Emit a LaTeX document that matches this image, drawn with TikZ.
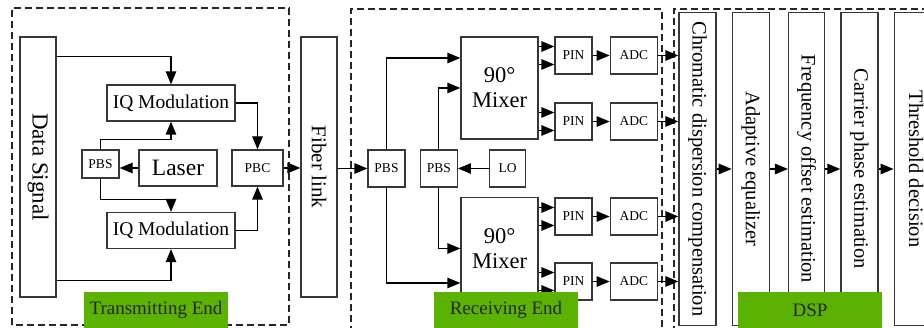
\documentclass[tikz,border=0pt]{standalone}
\usepackage{fontspec}
\setmainfont{Liberation Serif}
\usetikzlibrary{arrows.meta,positioning}
\definecolor{taggreen}{RGB}{92,178,0}
\definecolor{boxgray}{RGB}{55,55,55}

\begin{document}
\begin{tikzpicture}[
  x=1pt, y=1pt,
  font=\fontsize{13.5}{15}\selectfont,
  node distance=17pt,
  box/.style={draw=boxgray, line width=1.3pt, fill=white, align=center, inner sep=0pt},
  sbox/.style={box, minimum width=37pt, minimum height=37pt},
  vbox/.style={box, minimum width=36pt, minimum height=260pt, font=\fontsize{21}{24}\selectfont},
  dspbox/.style={box, minimum width=37pt, minimum height=313pt, font=\fontsize{20.5}{24}\selectfont},
  iqbox/.style={box, minimum width=128pt, minimum height=36pt, font=\fontsize{19.5}{22}\selectfont},
  mixbox/.style={box, minimum width=77pt, minimum height=102pt, font=\fontsize{22.5}{25}\selectfont},
  part/.style={draw=black!85, line width=1.1pt, dash pattern=on 7pt off 4pt},
  tag/.style={fill=taggreen, minimum width=144pt, minimum height=36pt, inner sep=0pt, text=black!85, font=\fontsize{19}{20}\selectfont},
  arr/.style={-{Triangle[length=13pt,width=10.5pt]}, line width=1.3pt}
]
\useasboundingbox (0,0) rectangle (924,328);
\clip (0,0) rectangle (924,328);

% --- frames ---
\draw[part] (12,3) rectangle (289,320);
\draw[part] (351,-5) rectangle (662,319);
\draw[part] (674,-5) rectangle (940,319);

% --- Transmitting end ---
\node[vbox, font=\fontsize{23}{26}\selectfont] (ds) at (38,161) {\rotatebox{-90}{Data Signal}};
\node[iqbox] (iq1) at (171,225) {IQ Modulation};
\node[iqbox] (iq2) at (171,97.5) {IQ Modulation};
\node[box, minimum width=78pt, minimum height=36pt, font=\fontsize{23.5}{26}\selectfont] (laser) at (178,160) {Laser};
\node[box, minimum width=37pt, minimum height=28pt] (pbs) at (100.5,164) {PBS};
\node[box, minimum width=51pt, minimum height=36pt] (pbc) at (257.5,160) {PBC};
\node[vbox] (fiber) at (319,161) {\rotatebox{-90}{Fiber link}};

\draw[arr] ([yshift=-20pt]ds.north east) -| (iq1.north);
\draw[arr] ([yshift=17pt]ds.south east) -| (iq2.south);
\draw[arr] (pbs.north) -- ++(0,10) -| (iq1.south);
\draw[arr] (pbs.south) -- ++(0,-21) -| (iq2.north);
\draw[arr] (laser.west) -- (laser.west -| pbs.east);
\draw[arr] (iq1.east) -| (pbc.north);
\draw[arr] (iq2.east) -| (pbc.south);
\draw[arr] (pbc.east) -- (pbc.east -| fiber.west);

% --- Receiving end ---
\node[sbox] (pbsA) at (386.5,159.5) {PBS};
\node[sbox, right=14pt of pbsA] (pbsB) {PBS};
\node[sbox, minimum width=36pt, right=31pt of pbsB] (lo) {LO};
\node[mixbox] (mixA) at (499.5,240) {90°\\Mixer};
\node[mixbox] (mixB) at (499.5,79.5) {90°\\Mixer};
\foreach \i/\y in {1/272.5,2/206.5,3/111.5,4/46.5} {
  \node[sbox] (pin\i) at (573.5,\y) {PIN};
  \node[sbox, minimum width=47pt, right=17pt of pin\i] (adc\i) {ADC};
}

\draw[arr] (fiber.east |- pbsA.west) -- (pbsA.west);
\draw[arr] (lo.west) -- (pbsB.east);
\draw[arr] (pbsA.north) |- ([yshift=30pt]mixA.west);
\draw[arr] (pbsA.south) |- ([yshift=-34.5pt]mixB.west);
\draw[arr] (pbsB.north) |- (mixA.west);
\draw[arr] (pbsB.south) |- (mixB.west);

% --- DSP ---
\node[dspbox] (cd) at (697.5,159) {\rotatebox{-90}{Chromatic dispersion compensation}};
\node[dspbox, right=15pt of cd] (ae) {\rotatebox{-90}{Adaptive equalizer}};
\node[dspbox, minimum width=36pt, right=18pt of ae] (fo) {\rotatebox{-90}{Frequency offset estimation}};
\node[dspbox, right=15pt of fo] (cp) {\rotatebox{-90}{Carrier phase estimation}};
\node[dspbox, minimum width=44pt, right=15pt of cp] (td) {\rotatebox{-90}{Threshold decision}};

\foreach \i/\m in {1/mixA,2/mixA,3/mixB,4/mixB} {
  \draw[arr] ([yshift=9pt]\m.east |- pin\i.west) -- ([yshift=9pt]pin\i.west);
  \draw[arr] ([yshift=-9pt]\m.east |- pin\i.west) -- ([yshift=-9pt]pin\i.west);
  \draw[arr] (pin\i) -- (adc\i);
  \draw[arr] (adc\i) -- (adc\i -| cd.west);
}
\foreach \a/\b in {cd/ae,ae/fo,fo/cp,cp/td}
  \draw[arr] (\a) -- (\b);

% --- tags ---
\node[tag] (txtag) at (156,18) {Transmitting End};
\node[tag] (rxtag) at (506,18) {Receiving End};
\node[tag] (dsptag) at (810,17.5) {DSP};

\end{tikzpicture}
\end{document}
